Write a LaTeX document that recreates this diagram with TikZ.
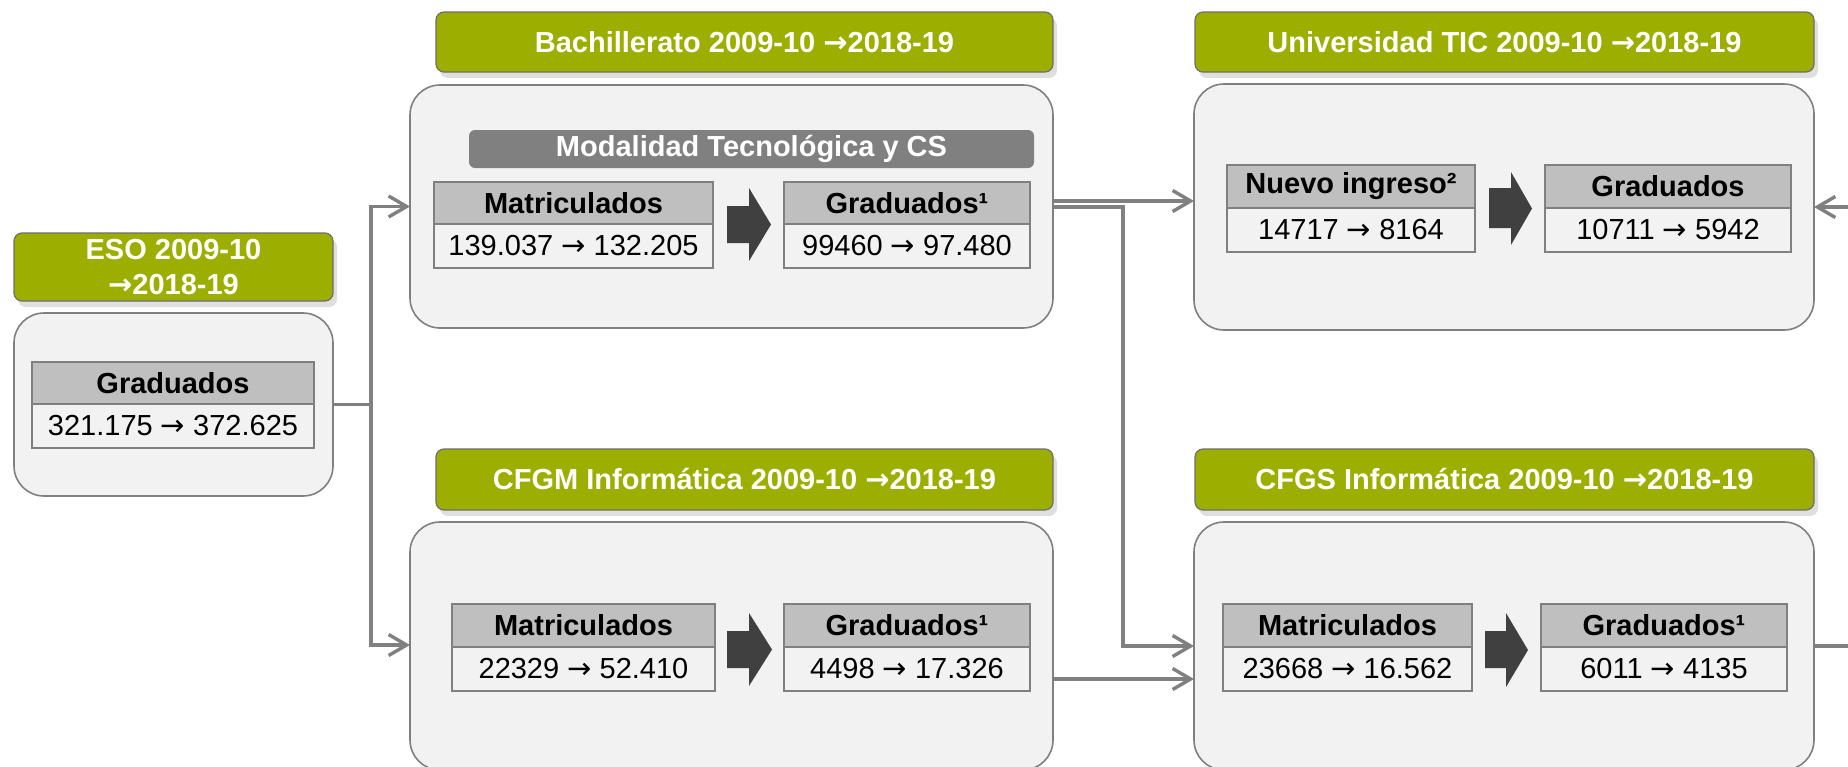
\documentclass[tikz,border=0pt]{standalone}
\usepackage{fontspec}
\setmainfont{Liberation Sans}
\newfontfamily\arrfont{DejaVu Sans}
\newcommand\myra{{\arrfont →}}
\usetikzlibrary{arrows.meta,shadows}
\definecolor{grn}{RGB}{156,175,0}
\definecolor{hdrline}{RGB}{110,110,110}
\definecolor{bline}{RGB}{128,128,128}
\definecolor{bodyfill}{RGB}{242,242,242}
\definecolor{thfill}{RGB}{191,191,191}
\definecolor{tvfill}{RGB}{242,242,242}
\definecolor{modfill}{RGB}{128,128,128}
\definecolor{barrow}{RGB}{64,64,64}
\definecolor{connc}{RGB}{128,128,128}
\begin{document}
\begin{tikzpicture}[x=0.5pt,y=-0.5pt,
  sz/.style 2 args={minimum width=#1*0.5pt, minimum height=#2*0.5pt},
  txt/.style={font=\fontsize{14.5}{17.5}\selectfont},
  btxt/.style={font=\bfseries\fontsize{14.5}{17.5}\selectfont},
  hdr/.style={draw=hdrline, line width=0.6pt, fill=grn, rounded corners=4pt, text=white, btxt,
     inner sep=0pt, outer sep=0pt, align=center,
     drop shadow={shadow xshift=2pt, shadow yshift=-3pt, opacity=0.25}},
  body/.style={draw=bline, line width=0.8pt, fill=bodyfill, rounded corners=15pt, inner sep=0pt, outer sep=0pt},
  modbar/.style={fill=modfill, rounded corners=3pt, text=white, btxt, inner sep=0pt, outer sep=0pt},
  th/.style={draw=bline, line width=1.3pt, fill=thfill, btxt, inner sep=0pt, outer sep=0pt},
  tv/.style={draw=bline, line width=1.3pt, fill=tvfill, txt, inner sep=0pt, outer sep=0pt},
  blk/.style={fill=barrow},
  conn/.style={draw=connc, line width=1.7pt},
  arr/.style={conn, -{Straight Barb[length=9pt,width=10.5pt]}}
]
\useasboundingbox (0,0) rectangle (1848,766);
\fill[white] (0,0) rectangle (1848,766);

% ESO
\node[hdr, sz={319}{68}] (eso-h) at (173.5,267) {ESO 2009-10\\\myra2018-19};
\node[body, sz={319}{183}] (eso-b) at (173.5,404.5) {};
\node[th, sz={282}{42}] (eso-th) at (173,383) {Graduados};
\node[tv, sz={282}{44}] (eso-tv) at (173,426) {321.175 \myra{} 372.625};

% Bachillerato
\node[hdr, sz={617}{60}] (bach-h) at (744.5,42) {Bachillerato 2009-10 \myra2018-19};
\node[body, sz={643}{243}] (bach-b) at (731.5,206.5) {};
\node[modbar, sz={565}{38}] (mod) at (751.5,149) {Modalidad Tecnológica y CS};
\node[th, sz={279}{42}] (bm-h) at (573.5,203) {Matriculados};
\node[tv, sz={279}{44}] (bm-v) at (573.5,246) {139.037 \myra{} 132.205};
\node[th, sz={246}{42}] (bg-h) at (907,203) {Graduados¹};
\node[tv, sz={246}{44}] (bg-v) at (907,246) {99460 \myra{} 97.480};
\fill[blk] (727,206) -- (749,206) -- (749,188) -- (771,224.5) -- (749,261) -- (749,243) -- (727,243) -- cycle;

% Universidad
\node[hdr, sz={619}{60}] (uni-h) at (1504.5,42) {Universidad TIC 2009-10 \myra2018-19};
\node[body, sz={620}{246}] (uni-b) at (1504,207) {};
\node[th, sz={248}{43}] (un-h) at (1351,186.5) {Nuevo ingreso²};
\node[tv, sz={248}{44}] (un-v) at (1351,230) {14717 \myra{} 8164};
\node[th, sz={246}{43}] (ug-h) at (1668,186.5) {Graduados};
\node[tv, sz={246}{44}] (ug-v) at (1668,230) {10711 \myra{} 5942};
\fill[blk] (1489,188) -- (1511,188) -- (1511,172) -- (1532,208.5) -- (1511,245) -- (1511,228) -- (1489,228) -- cycle;

% CFGM
\node[hdr, sz={617}{61}] (cfgm-h) at (744.5,479.5) {CFGM Informática 2009-10 \myra2018-19};
\node[body, sz={643}{248}] (cfgm-b) at (731.5,646) {};
\node[th, sz={263}{43}] (cm-h) at (583.5,625.5) {Matriculados};
\node[tv, sz={263}{44}] (cm-v) at (583.5,669) {22329 \myra{} 52.410};
\node[th, sz={246}{43}] (cg-h) at (907,625.5) {Graduados¹};
\node[tv, sz={246}{44}] (cg-v) at (907,669) {4498 \myra{} 17.326};
\fill[blk] (727,631) -- (749,631) -- (749,613) -- (772,649.5) -- (749,686) -- (749,668) -- (727,668) -- cycle;

% CFGS
\node[hdr, sz={619}{61}] (cfgs-h) at (1504.5,479.5) {CFGS Informática 2009-10 \myra2018-19};
\node[body, sz={620}{248}] (cfgs-b) at (1504,646) {};
\node[th, sz={249}{43}] (sm-h) at (1347.5,625.5) {Matriculados};
\node[tv, sz={249}{44}] (sm-v) at (1347.5,669) {23668 \myra{} 16.562};
\node[th, sz={246}{43}] (sg-h) at (1664,625.5) {Graduados¹};
\node[tv, sz={246}{44}] (sg-v) at (1664,669) {6011 \myra{} 4135};
\fill[blk] (1485,631) -- (1506,631) -- (1506,613) -- (1528,650) -- (1506,687) -- (1506,668) -- (1485,668) -- cycle;

% connectors
\coordinate (j1) at (371,404.5);
\coordinate (j2) at (371,645);
\draw[conn] (eso-b.east) -- (j1);
\draw[arr] (j1) |- (bach-b.west);
\draw[arr] (j1) -- (j2) -- (cfgm-b.west |- j2);

\draw[arr] (bach-b.east |- 0,201) -- (uni-b.west |- 0,201);
\coordinate (k1) at (1123,207);
\coordinate (k2) at (1123,646);
\draw[arr, line join=miter] (bach-b.east |- k1) -- (k1) -- (k2) -- (cfgs-b.west |- k2);
\draw[arr] (cfgm-b.east |- 0,679) -- (cfgs-b.west |- 0,679);

\coordinate (r1) at (1848,207);
\coordinate (r2) at (1848,646);
\draw[arr] (r1) -- (uni-b.east);
\draw[conn] (cfgs-b.east |- r2) -- (r2);
\end{tikzpicture}
\end{document}
